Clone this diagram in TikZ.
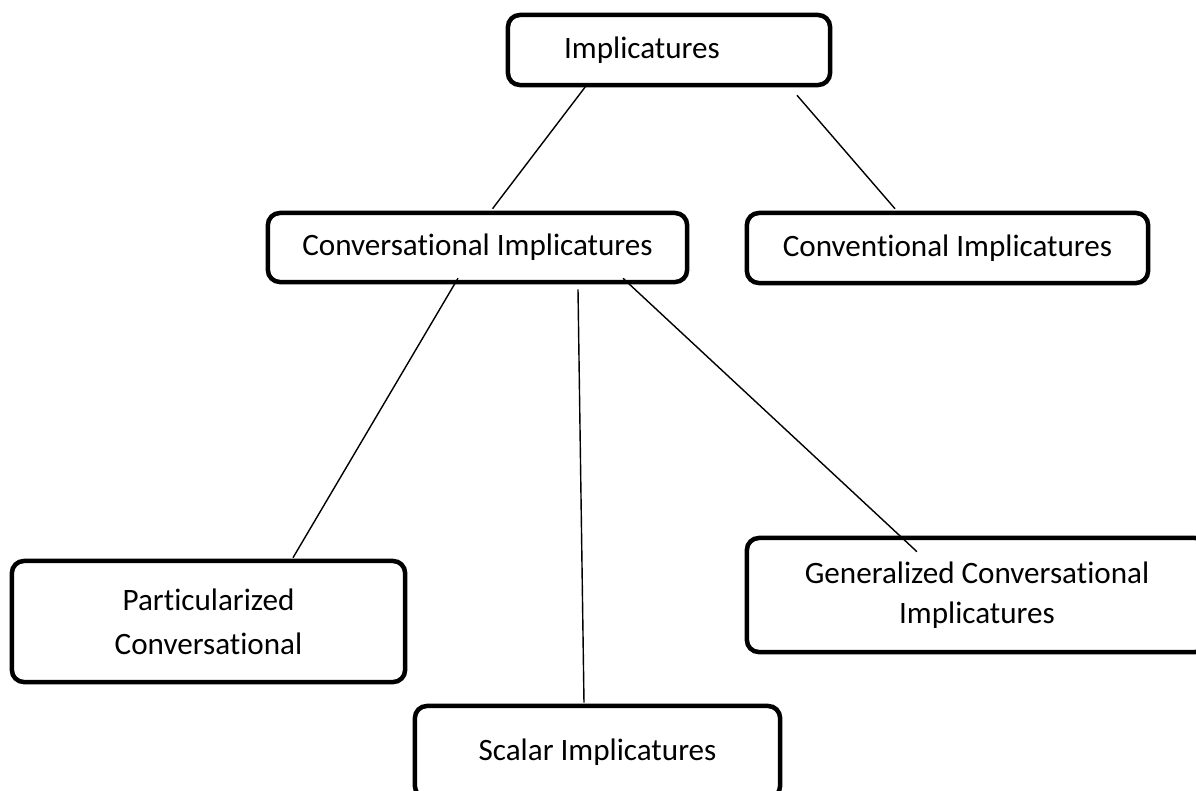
\documentclass[tikz,border=0pt]{standalone}
\usepackage{fontspec}
\setmainfont{Carlito}[Ligatures=CommonOff]
\usetikzlibrary{calc}
\usetikzlibrary{positioning}
\tikzset{
    % Rounded box with a heavy outline, as used for every concept
    concept box/.style={
        draw, line width=0.045cm, rounded corners=0.12cm,
        inner sep=0, align=center},
%
    % Plain thin line joining two concepts
    link/.style={draw, line width=0.4pt}}

\begin{document}
\begin{tikzpicture}[x=0.01cm, y=-0.01cm]
\fontsize{8.85}{11}\selectfont

% Fixes the page to the size of the original drawing
\useasboundingbox (0,0) rectangle (1196,790);
\clip (0,0) rectangle (1196,790);

% Top level
\node [concept box, minimum width=3.22cm, minimum height=0.70cm]
    (implicatures) at (669,50) {Implicatures\hspace{0.54cm}};

% The two main kinds
\node [concept box, minimum width=4.19cm, minimum height=0.69cm]
    (conversational) at (477.5,247.5) {\raisebox{-0.05cm}{Conversational Implicatures}};
\node [concept box, minimum width=4.01cm, minimum height=0.70cm]
    (conventional) at (947.5,248) {Conventional Implicatures};

% Sub kinds of conversational implicatures
\node [concept box, minimum width=3.93cm, minimum height=1.21cm,
    font=\fontsize{8.85}{12.5}\selectfont]
    (particularized) at (208.5,621.5) {Particularized\\Conversational};
\node [concept box, minimum width=3.65cm, minimum height=0.92cm]
    (scalar) at (597.5,752) {Scalar Implicatures};
\node [concept box, minimum width=4.60cm, minimum height=1.14cm,
    font=\fontsize{8.85}{11.4}\selectfont]
    (generalized) at (977,595) {Generalized Conversational\\Implicatures};

\draw [link] ($(implicatures.south)+(-81,-4)$)
    -- ($(conversational.north)+(15,-2)$);
\draw [link] ($(implicatures.south)+(128,8)$)
    -- ($(conventional.north)+(-52.5,-2)$);
\draw [link] ($(conversational.south)+(-19.5,-6)$)
    -- ($(particularized.north)+(84.5,-1)$);
\draw [link] ($(conversational.south)+(100.5,5)$)
    -- ($(scalar.north)+(-13.5,-1)$);
\draw [link] ($(conversational.south)+(145.5,-6)$)
    -- ($(generalized.north)+(-60,16)$);

\end{tikzpicture}
\end{document}
